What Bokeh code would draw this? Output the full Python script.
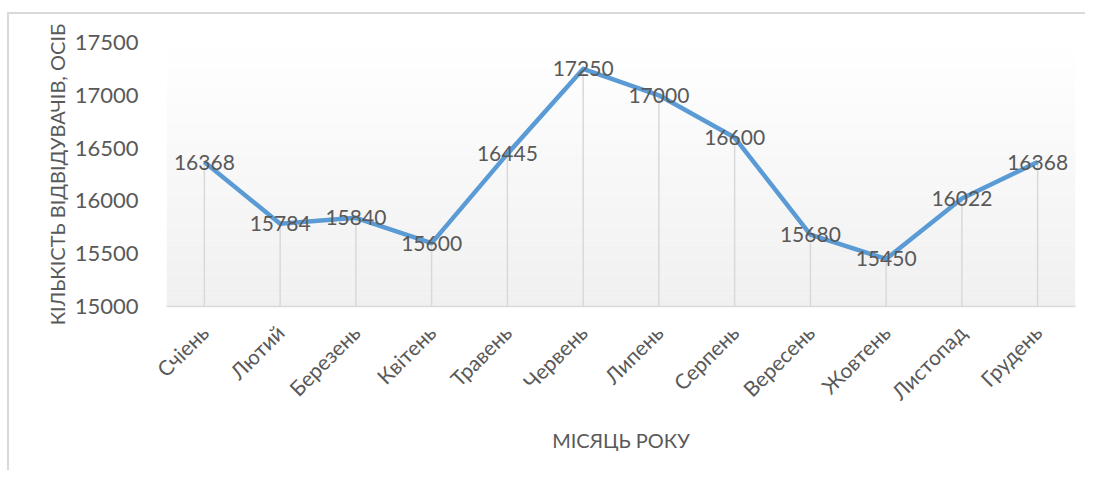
import math
from bokeh.plotting import figure
from bokeh.models import ColumnDataSource, Range1d, SingleIntervalTicker, BoxAnnotation, FactorRange
from bokeh.core.properties import value
from bokeh.embed import file_html
from bokeh.resources import INLINE

months = ["Счіень", "Лютий", "Березень", "Квітень", "Травень", "Червень",
          "Липень", "Серпень", "Вересень", "Жовтень", "Листопад", "Грудень"]
visitors = [16368, 15784, 15840, 15600, 16445, 17250, 17000, 16600, 15680, 15450, 16022, 16368]
y_title = "КІЛЬКІСТЬ ВІДВІДУВАЧІВ, ОСІБ"
x_title = "МІСЯЦЬ РОКУ"
Y_MIN, Y_MAX, Y_STEP = 15000, 17500, 500

FONT = "Lato"
TXT = "#595959"

src = ColumnDataSource(dict(m=months, v=visitors, base=[Y_MIN] * len(months),
                            lbl=[str(v) for v in visitors]))

p = figure(frame_width=909, frame_height=264, x_range=FactorRange(*months, range_padding=0.0),
           y_range=Range1d(Y_MIN, Y_MAX), output_backend="svg", toolbar_location=None,
           min_border_left=157, min_border_right=10, min_border_top=28, min_border_bottom=164)
p.styles = {"border-top": "2px solid #d9d9d9", "border-left": "2px solid #d9d9d9",
            "margin-top": "12px", "margin-left": "7px"}
p.outline_line_color = None
p.background_fill_color = "white"
p.border_fill_color = "white"

# gradient background (white at top to light gray at bottom)
n = 40
for i in range(n):
    t0 = i / n
    t1 = (i + 1) / n
    c = int(round(255 - (255 - 240) * (1 - (t0 + t1) / 2)))
    b = Y_MIN + (Y_MAX - Y_MIN) * t0
    tp = Y_MIN + (Y_MAX - Y_MIN) * t1
    p.add_layout(BoxAnnotation(bottom=b, top=tp, fill_color=(c, c, c), fill_alpha=1.0,
                               line_color=None, level="underlay"))

p.segment(x0="m", y0="base", x1="m", y1="v", source=src, line_color="#d9d9d9", line_width=1.5)
p.line(x="m", y="v", source=src, line_color="#5b9bd5", line_width=4.5, line_join="round")
p.text(x="m", y="v", text="lbl", source=src, text_align="center", text_baseline="middle",
       text_color=TXT, text_font=value(FONT), text_font_size="21px")

p.xgrid.grid_line_color = None
p.ygrid.grid_line_color = None

p.yaxis.ticker = SingleIntervalTicker(interval=Y_STEP)
p.yaxis.axis_line_color = None
p.yaxis.major_tick_line_color = None
p.yaxis.minor_tick_line_color = None
p.yaxis.major_label_text_font = FONT
p.yaxis.major_label_text_font_size = "22px"
p.yaxis.major_label_text_color = TXT
p.yaxis.major_label_standoff = 22
p.yaxis.axis_label = y_title
p.yaxis.axis_label_text_font = FONT
p.yaxis.axis_label_text_font_size = "20px"
p.yaxis.axis_label_text_font_style = "normal"
p.yaxis.axis_label_text_color = TXT
p.yaxis.axis_label_standoff = 3

p.xaxis.axis_line_color = "#d9d9d9"
p.xaxis.axis_line_width = 1.5
p.xaxis.major_tick_line_color = None
p.xaxis.minor_tick_line_color = None
p.xaxis.major_label_orientation = math.pi / 4
p.xaxis.major_label_text_font = FONT
p.xaxis.major_label_text_font_size = "21px"
p.xaxis.major_label_text_color = TXT
p.xaxis.major_label_standoff = 16
p.xaxis.axis_label = x_title
p.xaxis.axis_label_text_font = FONT
p.xaxis.axis_label_text_font_size = "20px"
p.xaxis.axis_label_text_font_style = "normal"
p.xaxis.axis_label_text_color = TXT
p.xaxis.axis_label_standoff = 12

open("out.html", "w").write(file_html(p, INLINE))
